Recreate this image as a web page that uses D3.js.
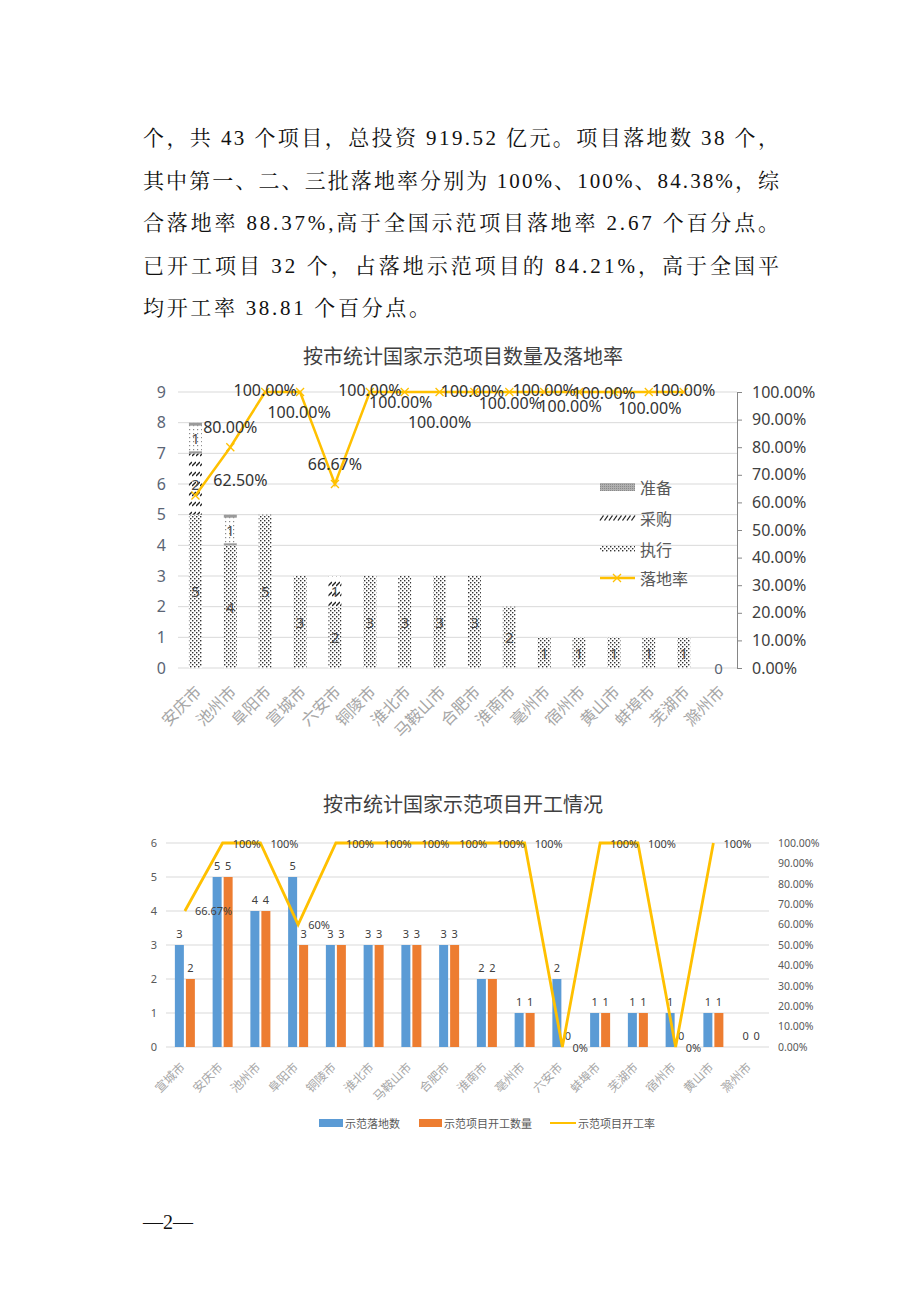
<!DOCTYPE html>
<html><head><meta charset="utf-8">
<script src="https://cdn.jsdelivr.net/npm/d3@7/dist/d3.min.js"></script>
<style>body{margin:0;background:#fff}svg{display:block}</style>
</head><body><svg id="page" width="920" height="1302"></svg>
<script>
// ---------- data ----------
const paragraphLines = [
  "个，共 43 个项目，总投资 919.52 亿元。项目落地数 38 个，",
  "其中第一、二、三批落地率分别为 100%、100%、84.38%，综",
  "合落地率 88.37%,高于全国示范项目落地率 2.67 个百分点。",
  "已开工项目 32 个，占落地示范项目的 84.21%，高于全国平",
  "均开工率 38.81 个百分点。"
];
const title1 = "按市统计国家示范项目数量及落地率";
const cities1 = ["安庆市","池州市","阜阳市","宣城市","六安市","铜陵市","淮北市","马鞍山市","合肥市","淮南市","亳州市","宿州市","黄山市","蚌埠市","芜湖市","滁州市"];
const zhixing = [5,4,5,3,2,3,3,3,3,2,1,1,1,1,1,0];
const caigou  = [2,0,0,0,1,0,0,0,0,0,0,0,0,0,0,0];
const zhunbei = [1,1,0,0,0,0,0,0,0,0,0,0,0,0,0,0];
const rate1   = [0.625,0.8,1,1,0.6667,1,1,1,1,1,1,1,1,1,1,null];
const leftTicks1 = [0,1,2,3,4,5,6,7,8,9];
const rightTicks1 = [0,0.1,0.2,0.3,0.4,0.5,0.6,0.7,0.8,0.9,1];
const legend1 = ["准备","采购","执行","落地率"];

const title2 = "按市统计国家示范项目开工情况";
const cities2 = ["宣城市","安庆市","池州市","阜阳市","铜陵市","淮北市","马鞍山市","合肥市","淮南市","亳州市","六安市","蚌埠市","芜湖市","宿州市","黄山市","滁州市"];
const landed2  = [3,5,4,5,3,3,3,3,2,1,2,1,1,1,1,0];
const started2 = [2,5,4,3,3,3,3,3,2,1,0,1,1,0,1,0];
const rate2    = [0.6667,1,1,0.6,1,1,1,1,1,1,0,1,1,0,1,null];
const leftTicks2 = [0,1,2,3,4,5,6];
const rightTicks2 = [0,0.1,0.2,0.3,0.4,0.5,0.6,0.7,0.8,0.9,1];
const legend2 = ["示范落地数","示范项目开工数量","示范项目开工率"];
const footer = "—2—";

// label nudges for chart-1 rate labels (Excel placement)
const rateLabelShift1 = [[45,-16],[0,-20],[0,-2],[-1,20],[0,-20],[0,-2],[-4,10],[0,30],[-2,-1],[1,11],[0,-2],[-9,14],[-10,1],[1,16],[0,-2]];

// ---------- page ----------
const svg = d3.select("#page");
svg.append("rect").attr("width",920).attr("height",1302).attr("fill","#fff");
const CJK = "'Noto Sans CJK SC','Noto Sans',sans-serif";
const SERIF = "'Liberation Serif','Noto Serif CJK SC','Noto Sans CJK SC',serif";
const NUM = "'Noto Sans','Noto Sans CJK SC',sans-serif";

const lineY = [138,181,223,266,308];
const lineW = [636,636,636,636,287];
paragraphLines.forEach((t,i)=>{
  svg.append("text").attr("x",143).attr("y",lineY[i])
    .attr("dominant-baseline","central")
    .attr("font-family",SERIF).attr("font-size",21).attr("fill","#111")
    .attr("textLength",lineW[i]).attr("lengthAdjust","spacing").text(t);
});

// patterns
const defs = svg.append("defs");
const pDot = defs.append("pattern").attr("id","dots").attr("patternUnits","userSpaceOnUse").attr("width",4).attr("height",4);
pDot.append("rect").attr("width",4).attr("height",4).attr("fill","#fff");
pDot.append("rect").attr("x",0).attr("y",0).attr("width",1.4).attr("height",1.4).attr("fill","#333");
pDot.append("rect").attr("x",2).attr("y",2).attr("width",1.4).attr("height",1.4).attr("fill","#333");
const pHatch = defs.append("pattern").attr("id","hatch").attr("patternUnits","userSpaceOnUse").attr("width",4).attr("height",10);
pHatch.append("rect").attr("width",4).attr("height",10).attr("fill","#fff");
pHatch.append("line").attr("x1",0).attr("y1",6).attr("x2",4).attr("y2",2).attr("stroke","#222").attr("stroke-width",1.4);
const pGray = defs.append("pattern").attr("id","gray").attr("patternUnits","userSpaceOnUse").attr("width",4).attr("height",4);
pGray.append("rect").attr("width",4).attr("height",4).attr("fill","#fff");
pGray.append("rect").attr("x",1).attr("y",1).attr("width",1.2).attr("height",1.2).attr("fill","#888");
const pGrayL = defs.append("pattern").attr("id","grayL").attr("patternUnits","userSpaceOnUse").attr("width",2).attr("height",2);
pGrayL.append("rect").attr("width",2).attr("height",2).attr("fill","#b0b0b0");
pGrayL.append("rect").attr("width",1).attr("height",1).attr("fill","#8a8a8a");

// ---------- chart 1 ----------
{
  const g = svg.append("g");
  g.append("text").attr("x",463).attr("y",355).attr("text-anchor","middle").attr("dominant-baseline","central")
    .attr("font-family",CJK).attr("font-size",20).attr("fill","#404040").text(title1);
  const x = d3.scaleBand().domain(cities1).range([178,736]);
  const y = d3.scaleLinear().domain([0,9]).range([668,392]);
  const yr = d3.scaleLinear().domain([0,1]).range([668,392]);
  g.selectAll(".grid").data(leftTicks1).join("line")
    .attr("x1",178).attr("x2",737).attr("y1",d=>y(d)).attr("y2",d=>y(d))
    .attr("stroke","#d9d9d9").attr("stroke-width",1);
  const la = g.append("g").attr("transform","translate(166,0)")
    .call(d3.axisLeft(y).tickValues(leftTicks1).tickSize(0).tickPadding(0).tickFormat(d3.format("d")));
  la.select(".domain").remove();
  la.selectAll("text").attr("font-family",NUM).attr("font-size",16).attr("fill","#5b6575");
  const ra = g.append("g").attr("transform","translate(737,0)")
    .call(d3.axisRight(yr).tickValues(rightTicks1).tickSize(5).tickPadding(10).tickFormat(d3.format(".2%")));
  ra.select(".domain").attr("stroke","#868686");
  ra.selectAll("line").attr("stroke","#868686");
  ra.selectAll("text").attr("font-family",NUM).attr("font-size",16).attr("fill","#404040");
  const bw = 13;
  const stacks = [
    {vals:zhixing, base:i=>0, fill:"url(#dots)"},
    {vals:caigou, base:i=>zhixing[i], fill:"url(#hatch)"},
    {vals:zhunbei, base:i=>zhixing[i]+caigou[i], fill:"url(#gray)"}
  ];
  stacks.forEach((s,si)=>{
    cities1.forEach((c,i)=>{
      const v = s.vals[i]; if(!v) return;
      const b = s.base(i);
      const cx = x(c)+x.bandwidth()/2;
      g.append("rect").attr("x",cx-bw/2).attr("width",bw).attr("y",y(b+v)).attr("height",y(b)-y(b+v)).attr("fill",s.fill);
      if(si===2){
        g.append("rect").attr("x",cx-bw/2).attr("width",bw).attr("y",y(b+v)).attr("height",3).attr("fill","#9a9a9a");
        g.append("rect").attr("x",cx-bw/2).attr("width",bw).attr("y",y(b)-2).attr("height",2).attr("fill","#9a9a9a");
      }
      g.append("text").attr("x",cx).attr("y",y(b+v/2)).attr("text-anchor","middle").attr("dominant-baseline","central")
        .attr("font-family",NUM).attr("font-size",15).attr("fill","#4a4a4a").text(v);
    });
  });
  cities1.forEach((c,i)=>{
    if(zhixing[i]+caigou[i]+zhunbei[i]===0){
      const cx = x(c)+x.bandwidth()/2;
      g.append("text").attr("x",cx).attr("y",y(0)).attr("text-anchor","middle").attr("dominant-baseline","central")
        .attr("font-family",NUM).attr("font-size",15).attr("fill","#5b6575").text(0);
    }
  });
  const pts = cities1.map((c,i)=>({c,v:rate1[i],i})).filter(d=>d.v!=null);
  const px = d=>x(d.c)+x.bandwidth()/2;
  g.append("path").datum(pts).attr("fill","none").attr("stroke","#ffc000").attr("stroke-width",2.5)
    .attr("d",d3.line().x(px).y(d=>yr(d.v)));
  pts.forEach(d=>{
    const cx=px(d), cy=yr(d.v), r=4;
    g.append("path").attr("d",`M${cx-r},${cy-r}L${cx+r},${cy+r}M${cx-r},${cy+r}L${cx+r},${cy-r}`)
      .attr("stroke","#ffc000").attr("stroke-width",1.3).attr("fill","none");
  });
  pts.forEach(d=>{
    const sh = rateLabelShift1[d.i];
    g.append("text").attr("x",px(d)+sh[0]).attr("y",yr(d.v)+sh[1]).attr("text-anchor","middle").attr("dominant-baseline","central")
      .attr("font-family",NUM).attr("font-size",16).attr("fill","#333").text(d3.format(".2%")(d.v));
  });
  cities1.forEach(c=>{
    const cx = x(c)+x.bandwidth()/2;
    g.append("text").attr("transform",`translate(${cx+2},${688}) rotate(-45)`).attr("text-anchor","end").attr("dominant-baseline","central")
      .attr("font-family",CJK).attr("font-size",16).attr("fill","#a6a6a6").text(c);
  });
  // legend
  const lx=600, ly=[487,518,549,578];
  g.append("rect").attr("x",lx).attr("y",ly[0]-4).attr("width",35).attr("height",8).attr("fill","url(#grayL)");
  d3.range(0,35,4.5).forEach(o=>{
    g.append("line").attr("x1",lx+o).attr("y1",ly[1]+2.5).attr("x2",lx+o+3.5).attr("y2",ly[1]-2.5).attr("stroke","#222").attr("stroke-width",1.3);
  });
  g.append("rect").attr("x",lx).attr("y",ly[2]-3).attr("width",35).attr("height",6).attr("fill","url(#dots)");
  g.append("line").attr("x1",lx).attr("x2",lx+35).attr("y1",ly[3]).attr("y2",ly[3]).attr("stroke","#ffc000").attr("stroke-width",2.5);
  g.append("path").attr("d",`M${lx+13},${ly[3]-4}L${lx+21},${ly[3]+4}M${lx+13},${ly[3]+4}L${lx+21},${ly[3]-4}`).attr("stroke","#ffc000").attr("stroke-width",1.3);
  legend1.forEach((t,i)=>{
    g.append("text").attr("x",lx+40).attr("y",ly[i]).attr("dominant-baseline","central")
      .attr("font-family",CJK).attr("font-size",16).attr("fill","#595959").text(t);
  });
}

// ---------- chart 2 ----------
{
  const g = svg.append("g");
  g.append("text").attr("x",463).attr("y",803).attr("text-anchor","middle").attr("dominant-baseline","central")
    .attr("font-family",CJK).attr("font-size",20).attr("fill","#404040").text(title2);
  const x = d3.scaleBand().domain(cities2).range([166,770]);
  const y = d3.scaleLinear().domain([0,6]).range([1047,843]);
  const yr = d3.scaleLinear().domain([0,1]).range([1047,843]);
  g.selectAll(".grid").data(leftTicks2).join("line")
    .attr("x1",166).attr("x2",769).attr("y1",d=>y(d)).attr("y2",d=>y(d))
    .attr("stroke","#d9d9d9").attr("stroke-width",1);
  const la = g.append("g").attr("transform","translate(157,0)")
    .call(d3.axisLeft(y).tickValues(leftTicks2).tickSize(0).tickPadding(0).tickFormat(d3.format("d")));
  la.select(".domain").remove();
  la.selectAll("text").attr("font-family",NUM).attr("font-size",11).attr("fill","#595959");
  const ra = g.append("g").attr("transform","translate(778,0)")
    .call(d3.axisRight(yr).tickValues(rightTicks2).tickSize(0).tickPadding(0).tickFormat(d3.format(".2%")));
  ra.select(".domain").remove();
  ra.selectAll("text").attr("font-family",NUM).attr("font-size",10.5).attr("fill","#595959");
  const bw=9, gap=2;
  const series = [{vals:landed2,color:"#5b9bd5",off:-(bw+gap/2)},{vals:started2,color:"#ed7d31",off:gap/2}];
  series.forEach(s=>{
    cities2.forEach((c,i)=>{
      const cx = x(c)+x.bandwidth()/2;
      const v = s.vals[i];
      if(v>0) g.append("rect").attr("x",cx+s.off).attr("width",bw).attr("y",y(v)).attr("height",y(0)-y(v)).attr("fill",s.color);
      g.append("text").attr("x",cx+s.off+bw/2).attr("y",y(v)-12).attr("text-anchor","middle").attr("dominant-baseline","central")
        .attr("font-family",NUM).attr("font-size",11).attr("fill","#404040").text(v);
    });
  });
  const pts = cities2.map((c,i)=>({c,v:rate2[i]})).filter(d=>d.v!=null);
  const px = d=>x(d.c)+x.bandwidth()/2;
  g.append("path").datum(pts).attr("fill","none").attr("stroke","#ffc000").attr("stroke-width",2.8).attr("stroke-linejoin","miter")
    .attr("d",d3.line().x(px).y(d=>yr(d.v)));
  const f2 = v=>{const p=Math.round(v*10000)/100; return (Number.isInteger(p)?p:p.toFixed(2))+"%";};
  pts.forEach(d=>{
    g.append("text").attr("x",px(d)+10).attr("y",yr(d.v)).attr("dominant-baseline","central")
      .attr("font-family",NUM).attr("font-size",11).attr("fill","#404040").text(f2(d.v));
  });
  cities2.forEach(c=>{
    const cx = x(c)+x.bandwidth()/2;
    g.append("text").attr("transform",`translate(${cx-3},${1064}) rotate(-45)`).attr("text-anchor","end").attr("dominant-baseline","central")
      .attr("font-family",CJK).attr("font-size",12).attr("fill","#a6a6a6").text(c);
  });
  // legend
  const ly=1123;
  g.append("rect").attr("x",319).attr("y",ly-4).attr("width",24).attr("height",8).attr("fill","#5b9bd5");
  g.append("rect").attr("x",419).attr("y",ly-4).attr("width",23).attr("height",8).attr("fill","#ed7d31");
  g.append("line").attr("x1",550).attr("x2",576).attr("y1",ly).attr("y2",ly).attr("stroke","#ffc000").attr("stroke-width",2);
  [[345,legend2[0]],[444,legend2[1]],[578,legend2[2]]].forEach(([lx,t])=>{
    g.append("text").attr("x",lx).attr("y",ly).attr("dominant-baseline","central")
      .attr("font-family",CJK).attr("font-size",11).attr("fill","#595959").text(t);
  });
}

svg.append("text").attr("x",143).attr("y",1222).attr("dominant-baseline","central")
  .attr("font-family",SERIF).attr("font-size",20).attr("fill","#111").text(footer);
</script></body></html>
